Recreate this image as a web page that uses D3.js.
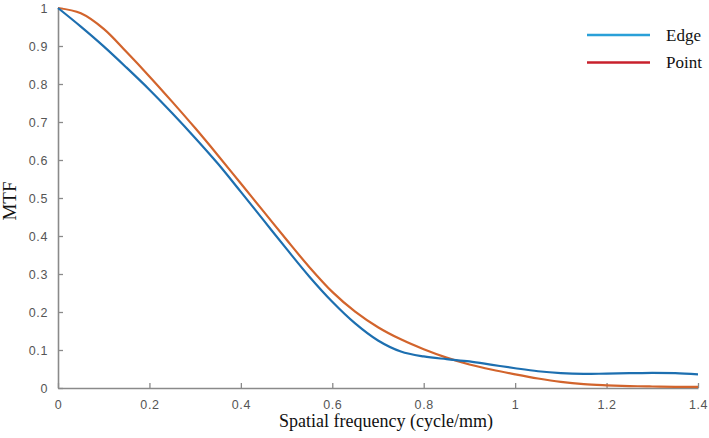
<!DOCTYPE html>
<html><head><meta charset="utf-8">
<script src="https://cdn.jsdelivr.net/npm/d3@7"></script>
<style>body{margin:0;background:#fff}svg{display:block}</style>
</head><body>
<svg id="c" width="709" height="438"></svg>
<script>
const freq = [0,0.05,0.1,0.15,0.2,0.25,0.3,0.35,0.4,0.45,0.5,0.55,0.6,0.65,0.7,0.75,0.8,0.85,0.9,0.95,1.0,1.05,1.1,1.15,1.2,1.25,1.3,1.35,1.4];
const edgeMTF = [1.0,0.951,0.899,0.843,0.785,0.723,0.658,0.590,0.516,0.441,0.366,0.293,0.227,0.17,0.125,0.096,0.083,0.076,0.07,0.061,0.052,0.044,0.039,0.037,0.038,0.039,0.04,0.039,0.036];
const pointMTF = [1.0,0.986,0.945,0.884,0.82,0.753,0.684,0.612,0.538,0.464,0.39,0.318,0.253,0.201,0.16,0.128,0.102,0.08,0.062,0.048,0.036,0.025,0.016,0.010,0.007,0.005,0.004,0.003,0.003];
const xTicks = [0,0.2,0.4,0.6,0.8,1,1.2,1.4];
const yTicks = [0,0.1,0.2,0.3,0.4,0.5,0.6,0.7,0.8,0.9,1];
const seriesNames = ["Edge","Point"];

const svg = d3.select("#c");
const x = d3.scaleLinear().domain([0,1.4]).range([58,698]);
const y = d3.scaleLinear().domain([0,1]).range([388,8]);
const axisCol = "#8a8a8a", labCol = "#555";

// axes
const gx = svg.append("g").attr("transform","translate(0,388)")
  .call(d3.axisBottom(x).tickValues(xTicks).tickSize(-5).tickSizeOuter(0).tickFormat(d=>String(d)));
const gy = svg.append("g").attr("transform","translate(58,0)")
  .call(d3.axisLeft(y).tickValues(yTicks).tickSize(-5).tickSizeOuter(0).tickFormat(d=>String(d)));
[gx,gy].forEach(g=>{
  g.select(".domain").attr("stroke",axisCol).attr("stroke-width",1.6);
  g.selectAll(".tick line").attr("stroke",axisCol).attr("stroke-width",1.3);
  g.selectAll("text").attr("fill",labCol).attr("font-family","Liberation Sans, Arial, sans-serif")
    .attr("font-size",12.5).attr("letter-spacing","0.6px");
});
gx.selectAll("text").attr("dy","0").attr("y",21);
gy.selectAll("text").attr("x",-10).attr("dy","0.35em");

// lines
const line = d3.line().x((d,i)=>x(freq[i])).y(d=>y(d)).curve(d3.curveCatmullRom.alpha(0.5));
svg.append("path").datum(pointMTF).attr("d",line).attr("fill","none").attr("stroke","#d2642c").attr("stroke-width",2.2);
svg.append("path").datum(edgeMTF).attr("d",line).attr("fill","none").attr("stroke","#1d6fb0").attr("stroke-width",2.2);

// axis titles
svg.append("text").attr("x",386).attr("y",427).attr("text-anchor","middle")
  .attr("font-family","Liberation Serif, Times New Roman, serif").attr("font-size",18).attr("fill","#111")
  .text("Spatial frequency (cycle/mm)");
svg.append("text").attr("transform","translate(16,201) rotate(-90)").attr("text-anchor","middle")
  .attr("font-family","Liberation Serif, Times New Roman, serif").attr("font-size",19).attr("fill","#111")
  .text("MTF");

// legend
const legCols = ["#2aa0d8","#c8202c"];
const leg = svg.append("g");
seriesNames.forEach((n,i)=>{
  const yy = 35 + i*27.5;
  leg.append("line").attr("x1",587).attr("x2",650).attr("y1",yy).attr("y2",yy).attr("stroke",legCols[i]).attr("stroke-width",2.6);
  leg.append("text").attr("x",666).attr("y",yy).attr("dy","0.33em")
    .attr("font-family","Liberation Serif, Times New Roman, serif").attr("font-size",17).attr("fill","#111").text(n);
});
</script>
</body></html>
